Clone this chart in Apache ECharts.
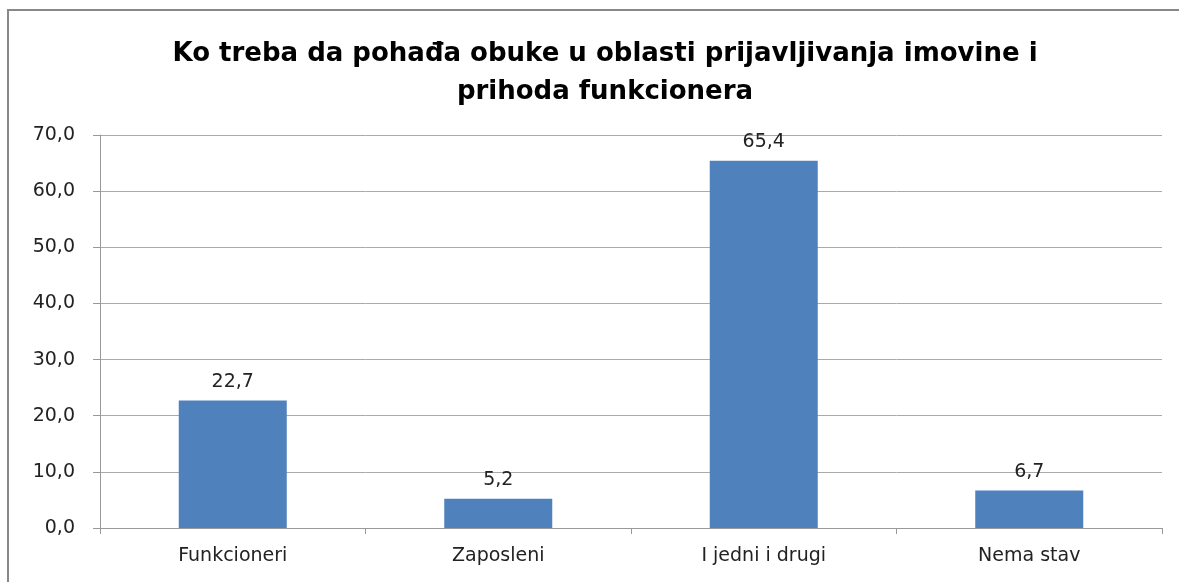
<!DOCTYPE html>
<html>
<head>
<meta charset="utf-8">
<script src="https://cdn.jsdelivr.net/npm/echarts@6/dist/echarts.min.js"></script>
<style>
  html, body { margin: 0; padding: 0; background: #fff; }
  #main { width: 1179px; height: 582px; }
</style>
</head>
<body>
<div id="main"></div>
<script>
var categories = ['Funkcioneri', 'Zaposleni', 'I jedni i drugi', 'Nema stav'];
var values = [22.7, 5.2, 65.4, 6.7];

function fmt(v) {
	return Number(v).toFixed(1).replace('.', ',');
}

var myChart = echarts.init(document.getElementById('main'));
var option = {
	backgroundColor: '#fff',
	animation: false,
	title: {
		text: 'Ko treba da pohađa obuke u oblasti prijavljivanja imovine i\nprihoda funkcionera',
		left: 600,
		textAlign: 'center',
		top: 30,
		textStyle: {
			fontFamily: 'DejaVu Sans',
			fontSize: 26,
			fontWeight: 'bold',
			color: '#000',
			lineHeight: 38
		}
	},
	graphic: [{
		type: 'rect',
		shape: { x: 8, y: 10, width: 1200, height: 620 },
		style: { fill: 'none', stroke: '#888', lineWidth: 2 },
		silent: true
	}],
	grid: {
		left: 100,
		right: 17,
		top: 135,
		bottom: 54,
		containLabel: false
	},
	xAxis: {
		type: 'category',
		data: categories,
		axisLine: { lineStyle: { color: '#999', width: 1 } },
		axisTick: { show: true, alignWithLabel: false, length: 6, lineStyle: { color: '#999' } },
		axisLabel: {
			fontFamily: 'DejaVu Sans',
			fontSize: 19,
			color: '#222',
			margin: 19
		}
	},
	yAxis: {
		type: 'value',
		min: 0,
		max: 70,
		interval: 10,
		axisLine: { show: true, lineStyle: { color: '#999', width: 1 } },
		axisTick: { show: true, length: 7, lineStyle: { color: '#999' } },
		splitLine: { lineStyle: { color: '#aaa', width: 1 } },
		axisLabel: {
			fontFamily: 'DejaVu Sans',
			fontSize: 19,
			color: '#222',
			margin: 25,
			formatter: function (v) { return fmt(v); }
		}
	},
	series: [{
		type: 'bar',
		data: values,
		barWidth: 108,
		itemStyle: { color: '#4f81bd' },
		label: {
			show: true,
			position: 'top',
			distance: 9,
			fontFamily: 'DejaVu Sans',
			fontSize: 19,
			color: '#222',
			formatter: function (p) { return fmt(p.value); }
		}
	}]
};
myChart.setOption(option);
</script>
</body>
</html>
